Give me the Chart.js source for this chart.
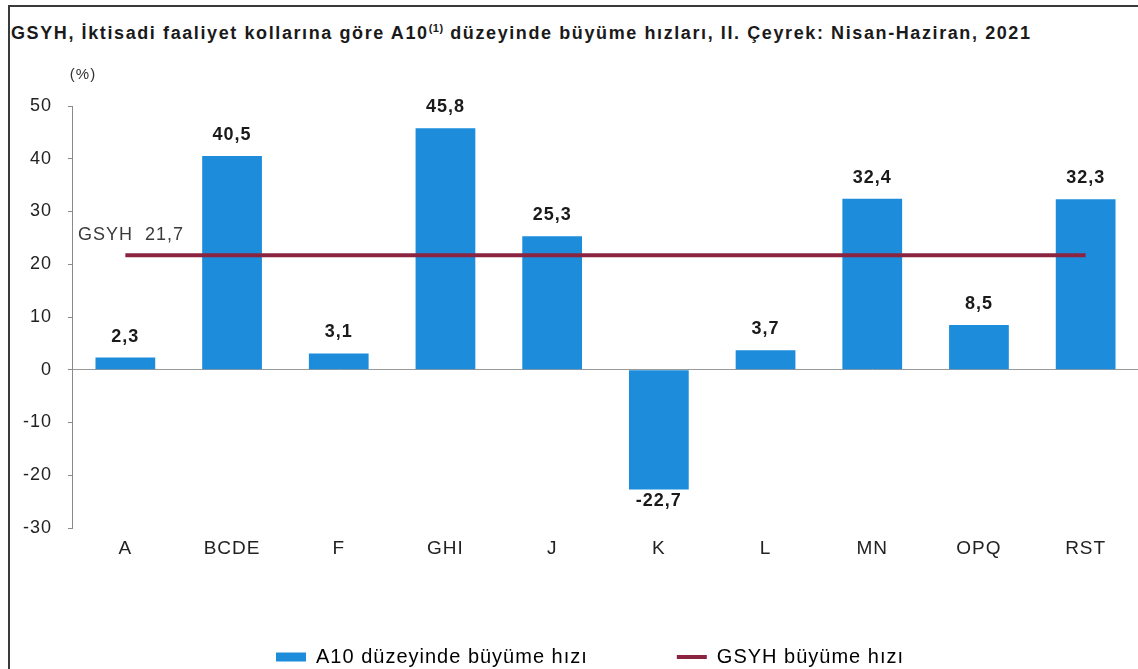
<!DOCTYPE html>
<html>
<head>
<meta charset="utf-8">
<script src="https://cdn.jsdelivr.net/npm/chart.js@4"></script>
<style>
  html, body { margin: 0; padding: 0; background: #fff; overflow: hidden; }
  body { width: 1138px; height: 669px; position: relative; }
  #frame {
    position: absolute; left: 8px; top: 5px; width: 1200px; height: 700px;
    border-top: 2px solid #3a3a3a; border-left: 2px solid #3a3a3a;
  }
  #title {
    position: absolute; left: 11px; top: 23px; white-space: nowrap;
    font: bold 18px "Liberation Sans", Arial, sans-serif; color: #1a1a1a;
    letter-spacing: 1.6px;
  }
  #title sup { font-size: 11px; vertical-align: 7px; line-height: 0; letter-spacing: 0.5px; }
  #chart { position: absolute; left: 0; top: 0; }
</style>
</head>
<body>
<div id="frame"></div>
<div id="title">GSYH, İktisadi faaliyet kollarına göre A10<sup>(1)</sup> düzeyinde büyüme hızları, II. Çeyrek: Nisan-Haziran, 2021</div>
<canvas id="chart" width="1160" height="690"></canvas>
<script>
// values
const categories = ["A", "BCDE", "F", "GHI", "J", "K", "L", "MN", "OPQ", "RST"];
const growthA10 = [2.3, 40.5, 3.1, 45.8, 25.3, -22.7, 3.7, 32.4, 8.5, 32.3];
const gdpGrowth = 21.7;
const gdpLine = categories.map(() => gdpGrowth);
const yTicks = [-30, -20, -10, 0, 10, 20, 30, 40, 50];

const FONT = '"Liberation Sans", Arial, sans-serif';
const BLUE = "#1d8ddb";
const MAROON = "#8b2440";

const fmt = (v) => v.toFixed(1).replace(".", ",");

// the scanned original has slightly wide lettering
const spacingPlugin = {
  id: "spacing",
  beforeInit(chart) { chart.ctx.letterSpacing = "1px"; },
  beforeDraw(chart) { chart.ctx.letterSpacing = "1px"; },
};

// value labels, unit label and the GSYH note
const labelsPlugin = {
  id: "labels",
  afterDatasetsDraw(chart) {
    const ctx = chart.ctx;
    const y = chart.scales.y;
    const meta = chart.getDatasetMeta(0);
    ctx.save();
    ctx.fillStyle = "#1a1a1a";
    ctx.font = "bold 18px " + FONT;
    ctx.textAlign = "center";
    meta.data.forEach((bar, i) => {
      const v = growthA10[i];
      if (v >= 0) {
        ctx.textBaseline = "alphabetic";
        ctx.fillText(fmt(v), bar.x, bar.y - 16);
      } else {
        ctx.textBaseline = "top";
        ctx.fillText(fmt(v), bar.x, bar.y + 3);
      }
    });
    ctx.font = "15px " + FONT;
    ctx.textBaseline = "middle";
    ctx.fillStyle = "#333";
    ctx.fillText("(%)", chart.chartArea.left + 11, chart.chartArea.top - 31);
    ctx.font = "18px " + FONT;
    ctx.textAlign = "left";
    ctx.fillStyle = "#3a3a3a";
    ctx.fillText("GSYH  " + fmt(gdpGrowth), chart.chartArea.left + 6, y.getPixelForValue(gdpGrowth) - 20);
    ctx.restore();
  }
};

new Chart(document.getElementById("chart").getContext("2d"), {
  type: "bar",
  data: {
    labels: categories,
    datasets: [
      {
        label: "A10 düzeyinde büyüme hızı",
        data: growthA10,
        backgroundColor: BLUE,
        borderWidth: 0,
        barPercentage: 0.56,
        categoryPercentage: 1,
        order: 1,
      },
      {
        type: "line",
        label: "GSYH büyüme hızı",
        data: gdpLine,
        borderColor: MAROON,
        backgroundColor: MAROON,
        borderWidth: 4,
        pointRadius: 0,
        fill: false,
        order: 0,
      },
    ],
  },
  options: {
    responsive: false,
    animation: false,
    layout: { padding: { left: 0, right: 21, top: 106, bottom: 13 } },
    scales: {
      x: {
        grid: { display: false, drawTicks: false },
        border: { display: false },
        ticks: { color: "#222", font: { family: FONT, size: 19 }, padding: 9 },
        afterFit: (scale) => { scale.height = 30; },
      },
      y: {
        min: -30,
        max: 50,
        afterBuildTicks: (scale) => { scale.ticks = yTicks.map((v) => ({ value: v })); },
        afterFit: (scale) => { scale.width = 72; },
        border: { display: true, color: "#8a8a8a", width: 1 },
        grid: {
          drawTicks: true,
          tickLength: 4,
          tickColor: "#8a8a8a",
          color: (c) => (c.tick && c.tick.value === 0 ? "#9a9a9a" : "transparent"),
        },
        ticks: { color: "#222", font: { family: FONT, size: 18 }, padding: 16 },
      },
    },
    plugins: {
      legend: {
        position: "bottom",
        labels: {
          usePointStyle: true,
          pointStyleWidth: 30,
          boxHeight: 9,
          padding: 89,
          color: "#222",
          font: { family: FONT, size: 20 },
          sort: (a, b) => a.datasetIndex - b.datasetIndex,
          generateLabels: (chart) =>
            chart.data.datasets.map((ds, i) => ({
              text: ds.label,
              datasetIndex: i,
              fillStyle: ds.type === "line" ? MAROON : BLUE,
              strokeStyle: ds.type === "line" ? MAROON : BLUE,
              lineWidth: ds.type === "line" ? 4 : 0,
              pointStyle: ds.type === "line" ? "line" : "rect",
              hidden: false,
            })),
        },
      },
      tooltip: { enabled: false },
    },
  },
  plugins: [spacingPlugin, labelsPlugin],
});
</script>
</body>
</html>
